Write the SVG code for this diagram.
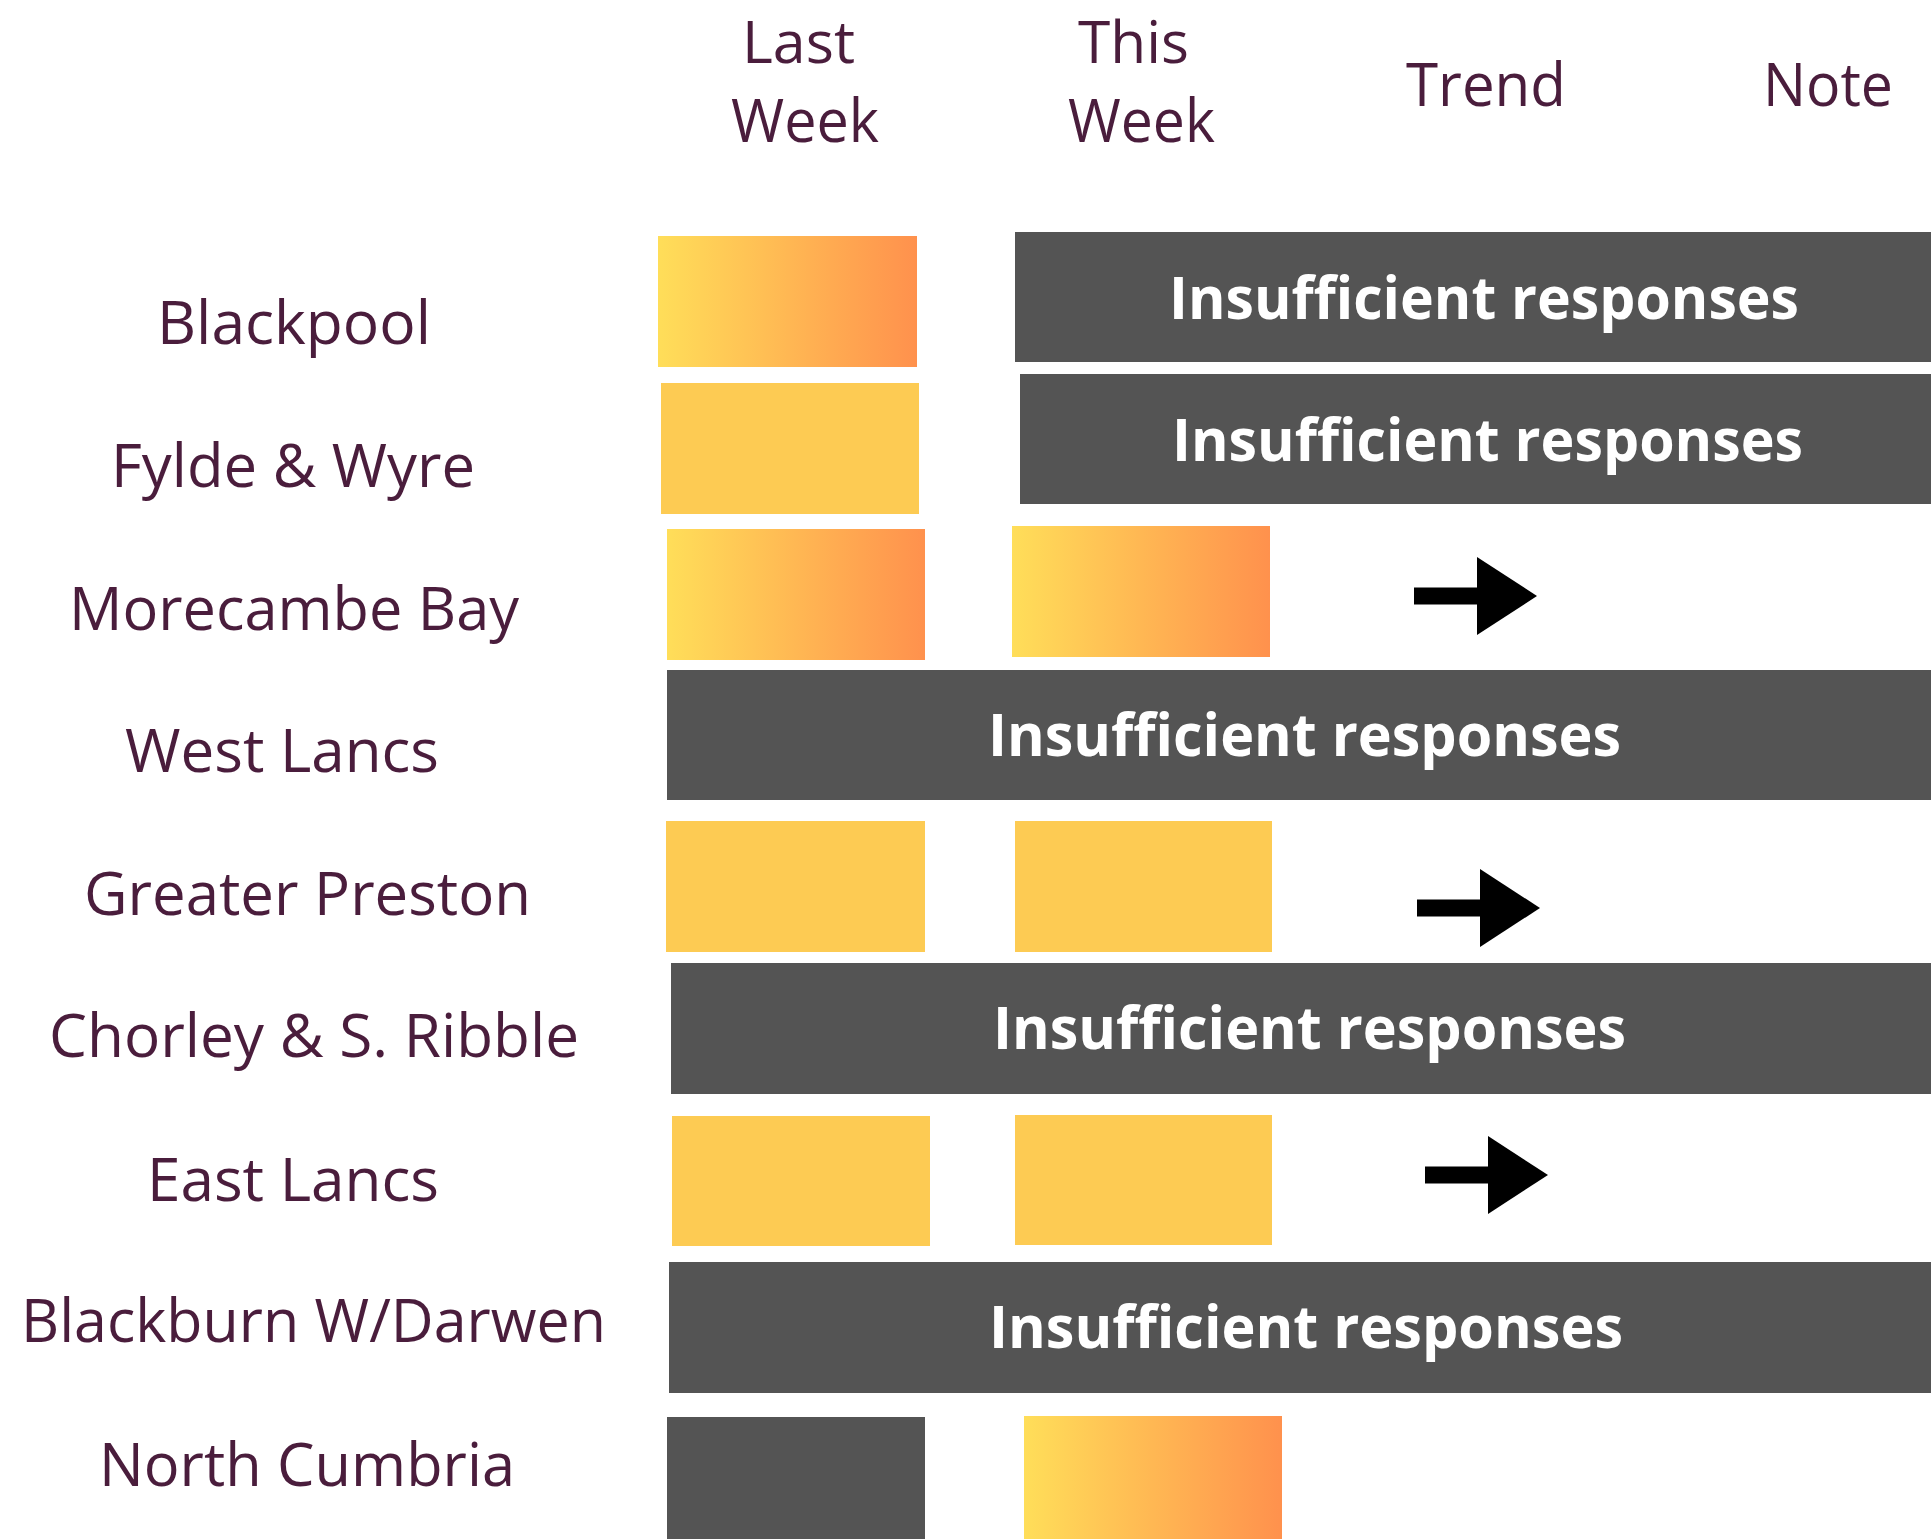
<svg xmlns="http://www.w3.org/2000/svg" width="1931" height="1539" viewBox="0 0 1931 1539">
  <style>
    .lbl { font-family: "Open Sans", "Noto Sans", "Liberation Sans", sans-serif; font-size: 61px; fill: #4A1D3C; }
    .top { font-size: 58.5px; }
    .ins { font-family: "Open Sans", "Noto Sans", "Liberation Sans", sans-serif; font-size: 59px; font-weight: 700; fill: #FFFFFF; }
    .dark { fill: #545454; }
    .solid { fill: #FDCB53; }
    .grad { fill: url(#warm); }
    .arrow { fill: #000000; }
  </style>
  <defs>
    <linearGradient id="warm" x1="0" y1="0" x2="1" y2="0">
      <stop offset="0" stop-color="#FFDE59"/>
      <stop offset="1" stop-color="#FF914D"/>
    </linearGradient>
    <symbol id="trend" overflow="visible">
      <rect x="0" y="-8.5" width="64" height="17"/>
      <polygon points="63,-39 123,0 63,39"/>
    </symbol>
  </defs>
  <rect width="1931" height="1539" fill="#FFFFFF"/>

  <g id="headers">
    <text class="lbl top" x="742" y="63" textLength="113" lengthAdjust="spacingAndGlyphs">Last</text>
    <text class="lbl" x="731" y="142" textLength="148" lengthAdjust="spacingAndGlyphs">Week</text>
    <text class="lbl top" x="1078" y="63" textLength="111" lengthAdjust="spacingAndGlyphs">This</text>
    <text class="lbl" x="1068" y="142" textLength="147" lengthAdjust="spacingAndGlyphs">Week</text>
    <text class="lbl" x="1406" y="106" textLength="160" lengthAdjust="spacingAndGlyphs">Trend</text>
    <text class="lbl" x="1763" y="106" textLength="130" lengthAdjust="spacingAndGlyphs">Note</text>
  </g>

  <g id="row-blackpool">
    <text class="lbl" x="157" y="344" textLength="274" lengthAdjust="spacingAndGlyphs">Blackpool</text>
    <rect class="grad" x="658" y="236" width="259" height="131"/>
    <rect class="dark" x="1015" y="232" width="940" height="130"/>
    <text class="ins" x="1169" y="319" textLength="630" lengthAdjust="spacingAndGlyphs">Insufficient responses</text>
  </g>

  <g id="row-fylde">
    <text class="lbl" x="111" y="487" textLength="364" lengthAdjust="spacingAndGlyphs">Fylde &amp; Wyre</text>
    <rect class="solid" x="661" y="383" width="258" height="131"/>
    <rect class="dark" x="1020" y="374" width="940" height="130"/>
    <text class="ins" x="1172" y="461" textLength="631" lengthAdjust="spacingAndGlyphs">Insufficient responses</text>
  </g>

  <g id="row-morecambe">
    <text class="lbl" x="69" y="630" textLength="450" lengthAdjust="spacingAndGlyphs">Morecambe Bay</text>
    <rect class="grad" x="667" y="529" width="258" height="131"/>
    <rect class="grad" x="1012" y="526" width="258" height="131"/>
    <use href="#trend" class="arrow" x="1414" y="596"/>
  </g>

  <g id="row-westlancs">
    <text class="lbl" x="125" y="772" textLength="314" lengthAdjust="spacingAndGlyphs">West Lancs</text>
    <rect class="dark" x="667" y="670" width="1280" height="130"/>
    <text class="ins" x="988" y="756" textLength="633" lengthAdjust="spacingAndGlyphs">Insufficient responses</text>
  </g>

  <g id="row-preston">
    <text class="lbl" x="84" y="915" textLength="447" lengthAdjust="spacingAndGlyphs">Greater Preston</text>
    <rect class="solid" x="666" y="821" width="259" height="131"/>
    <rect class="solid" x="1015" y="821" width="257" height="131"/>
    <use href="#trend" class="arrow" x="1417" y="908"/>
  </g>

  <g id="row-chorley">
    <text class="lbl" x="49" y="1057" textLength="530" lengthAdjust="spacingAndGlyphs">Chorley &amp; S. Ribble</text>
    <rect class="dark" x="671" y="963" width="1280" height="131"/>
    <text class="ins" x="993" y="1049" textLength="633" lengthAdjust="spacingAndGlyphs">Insufficient responses</text>
  </g>

  <g id="row-eastlancs">
    <text class="lbl" x="147" y="1201" textLength="292" lengthAdjust="spacingAndGlyphs">East Lancs</text>
    <rect class="solid" x="672" y="1116" width="258" height="130"/>
    <rect class="solid" x="1015" y="1115" width="257" height="130"/>
    <use href="#trend" class="arrow" x="1425" y="1175"/>
  </g>

  <g id="row-blackburn">
    <text class="lbl" x="21" y="1342" textLength="585" lengthAdjust="spacingAndGlyphs">Blackburn W/Darwen</text>
    <rect class="dark" x="669" y="1262" width="1280" height="131"/>
    <text class="ins" x="989" y="1348" textLength="634" lengthAdjust="spacingAndGlyphs">Insufficient responses</text>
  </g>

  <g id="row-northcumbria">
    <text class="lbl" x="99" y="1486" textLength="416" lengthAdjust="spacingAndGlyphs">North Cumbria</text>
    <rect class="dark" x="667" y="1417" width="258" height="130"/>
    <rect class="grad" x="1024" y="1416" width="258" height="131"/>
  </g>

  <g id="connectors"></g>
</svg>
